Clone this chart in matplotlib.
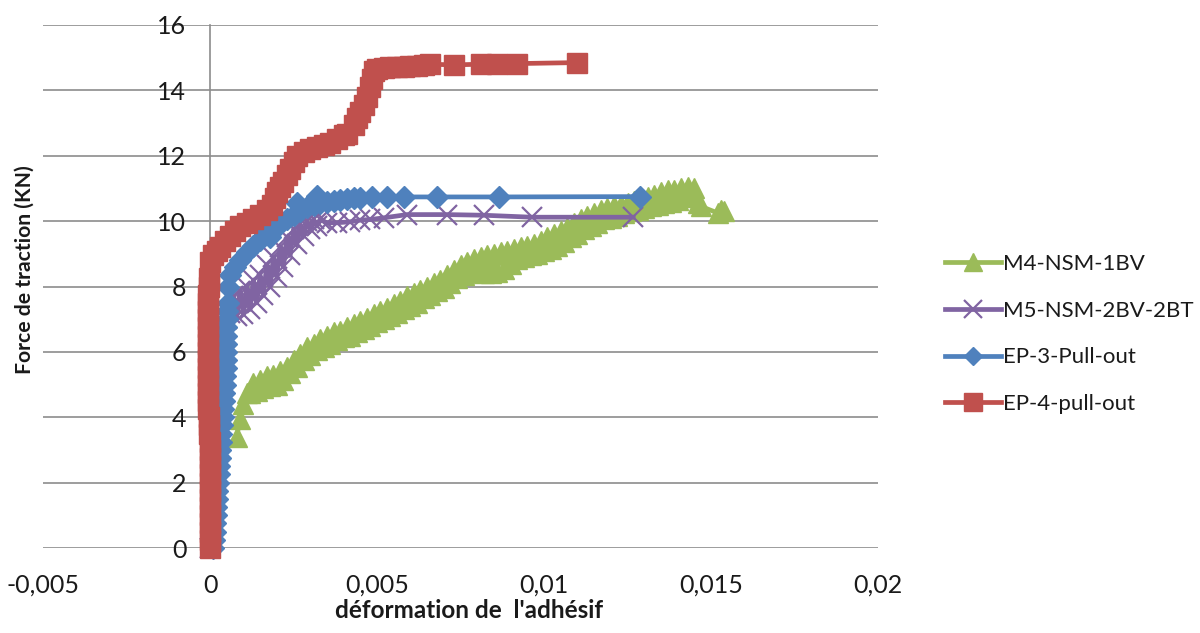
import matplotlib
matplotlib.use("Agg")
import matplotlib.pyplot as plt
from matplotlib.ticker import FixedLocator, FixedFormatter

plt.rcParams['font.family'] = ['Lato', 'DejaVu Sans']

# ---- data; strain in units of 1e-4 ----
m4_x = [8, 9, 10, 11, 12, 13, 14, 15, 16, 17, 18, 19, 20, 21, 22, 23, 24, 25, 26, 27,
        28, 29, 30, 31, 32, 33, 34, 35, 36, 37, 38, 39, 40, 41, 42, 43, 44, 45, 46, 47,
        48, 49, 50, 51, 52, 53, 54, 55, 56, 57, 58, 59, 60, 61, 62, 63, 64, 65, 66, 67,
        68, 69, 70, 71, 72, 73, 74, 75, 76, 77, 78, 79, 80, 81, 82, 83, 84, 85, 86, 87,
        88, 89, 90, 91, 92, 93, 94, 95, 96, 97, 98, 99, 100, 101, 102, 103, 104, 105, 106, 107,
        108, 109, 110, 111, 112, 113, 114, 115, 116, 117, 118, 119, 120, 121, 122, 123, 124, 125, 126, 127,
        128, 129, 130, 131, 132, 133, 134, 135, 136, 137, 138, 139, 140, 141, 142, 143, 144, 145, 146, 147,
        152, 153, 154]
m4_y = [3.40, 3.95, 4.40, 4.75, 4.75, 5.05, 4.80, 5.15, 4.90, 5.25, 4.95, 5.30, 5.00, 5.40, 5.15, 5.55, 5.35, 5.75, 5.55, 5.95,
        5.75, 6.15, 5.90, 6.25, 6.05, 6.40, 6.15, 6.50, 6.25, 6.60, 6.35, 6.65, 6.45, 6.75, 6.50, 6.85, 6.60, 6.95, 6.70, 7.05,
        6.80, 7.15, 6.90, 7.25, 7.00, 7.35, 7.10, 7.45, 7.20, 7.55, 7.30, 7.70, 7.40, 7.80, 7.50, 7.90, 7.65, 8.00, 7.75, 8.10,
        7.85, 8.20, 7.95, 8.35, 8.10, 8.50, 8.25, 8.65, 8.35, 8.75, 8.45, 8.85, 8.50, 8.90, 8.40, 8.95, 8.40, 9.00, 8.45, 9.05,
        8.55, 9.10, 8.70, 9.15, 8.85, 9.20, 8.90, 9.25, 8.95, 9.30, 9.00, 9.40, 9.10, 9.50, 9.15, 9.60, 9.25, 9.70, 9.35, 9.80,
        9.50, 9.95, 9.60, 10.05, 9.75, 10.15, 9.85, 10.25, 9.95, 10.35, 10.05, 10.40, 10.10, 10.45, 10.15, 10.50, 10.25, 10.55, 10.30, 10.62,
        10.35, 10.70, 10.40, 10.75, 10.45, 10.80, 10.50, 10.88, 10.55, 10.95, 10.60, 10.95, 10.65, 11.00, 10.75, 11.05, 10.85, 11.00, 10.55, 10.45,
        10.25, 10.35, 10.30]

m5_x = [0.0, 0.5, 1.0, 1.5, 2.0, 2.5, 3.0, 3.5, 4.0, 4.5, 5.0, 6, 7, 8, 9, 10, 11, 12, 13, 14,
        15, 16, 17, 18, 19, 20, 21, 22, 23, 24, 25, 26, 27, 28, 29, 30, 31, 32, 33, 35,
        38, 42, 45, 48, 52, 59, 71, 82, 96.3, 126.7]
m5_y = [0.0, 0.8, 1.6, 2.4, 3.2, 4.0, 4.8, 5.6, 6.2, 6.7, 7.0, 7.2, 7.7, 7.1, 7.85, 7.15, 8.0, 7.3, 8.2, 7.5,
        8.35, 7.75, 8.65, 8.0, 8.9, 8.3, 9.2, 8.6, 9.5, 8.95, 9.75, 9.3, 9.9, 9.55, 10.0, 9.75, 10.05, 9.85, 10.05, 9.95,
        9.95, 9.98, 10.03, 10.05, 10.1, 10.2, 10.2, 10.18, 10.12, 10.12]

ep3_x = [1.0, 1.2, 1.4, 1.5, 1.7, 1.9, 2.0, 2.2, 2.4, 2.6,
         2.8, 2.9, 3.1, 3.3, 3.4, 3.6, 3.8, 4.0, 4.1, 4.3,
         4.5, 4.6, 4.7, 4.8, 4.8, 4.8, 4.8, 4.9, 5.0, 5.1,
         5.3, 5.5, 6.0, 7.5, 9.0, 11.0, 13.0, 15.0, 16.5, 18.0,
         19.5, 21.0, 23.0, 25.0, 26.0, 27.0, 29.0, 31.0, 32.0, 33.0,
         35.0, 37.0, 39.0, 41.0, 43.0, 45.0, 48.5, 53.0, 58.0, 68.0,
         86.5, 128.7]
ep3_y = [0.0, 0.25, 0.5, 0.75, 1.0, 1.25, 1.5, 1.75, 2.0, 2.25,
         2.5, 2.75, 3.0, 3.25, 3.5, 3.75, 4.0, 4.25, 4.5, 4.75,
         5.0, 5.25, 5.5, 5.75, 6.0, 6.25, 6.5, 6.75, 7.0, 7.25,
         7.5, 8.0, 8.35, 8.6, 8.8, 9.05, 9.25, 9.42, 9.6, 9.5,
         9.8, 9.92, 10.05, 10.2, 10.55, 10.32, 10.42, 10.5, 10.78, 10.55,
         10.6, 10.63, 10.65, 10.67, 10.7, 10.72, 10.74, 10.74, 10.74, 10.74,
         10.74, 10.75]

ep4_x = [0.0, 0.0, 0.0, 0.0, 0.0, 0.0, 0.0, 0.0, 0.0, 0.0,
         0.0, 0.0, 0.0, -0.1, -0.2, -0.3, -0.4, -0.5, -0.6, -0.7,
         -0.7, -0.7, -0.7, -0.7, -0.7, -0.7, -0.7, -0.7, -0.7, -0.7,
         -0.6, -0.5, -0.4, -0.2, 0.0, 1.0, 2.0, 3.0, 4.5, 6.0,
         7.5, 9.0, 11.0, 13.0, 15.0, 17.0, 18.5, 19.5, 20.0, 21.0,
         22.0, 23.0, 24.0, 25.0, 26.0, 28.0, 30.0, 32.0, 34.0, 36.0,
         38.0, 40.0, 41.0, 43.0, 44.0, 45.0, 46.0, 47.0, 48.0, 48.5,
         49.0, 50.0, 52.0, 54.0, 56.0, 58.0, 60.0, 62.0, 64.0, 66.0,
         73.0, 81.0, 86.0, 92.0, 110.0]
ep4_y = [0.0, 0.25, 0.5, 0.75, 1.0, 1.25, 1.5, 1.75, 2.0, 2.25,
         2.5, 2.75, 3.0, 3.25, 3.5, 3.75, 4.0, 4.25, 4.5, 4.75,
         5.0, 5.25, 5.5, 5.75, 6.0, 6.25, 6.5, 6.75, 7.0, 7.25,
         7.5, 7.75, 8.0, 8.25, 8.75, 8.95, 9.1, 9.2, 9.4, 9.55,
         9.7, 9.85, 9.95, 10.08, 10.2, 10.35, 10.5, 10.7, 10.9, 11.05,
         11.2, 11.4, 11.6, 11.8, 12.0, 12.1, 12.2, 12.28, 12.32, 12.4,
         12.5, 12.62, 12.68, 12.95, 13.15, 13.35, 13.55, 13.8, 14.1, 14.35,
         14.6, 14.65, 14.68, 14.7, 14.72, 14.73, 14.75, 14.76, 14.78, 14.8,
         14.78, 14.8, 14.82, 14.82, 14.85]

series_names = ['M4-NSM-1BV', 'M5-NSM-2BV-2BT', 'EP-3-Pull-out', 'EP-4-pull-out']

x_ticks = [-0.005, 0.0, 0.005, 0.01, 0.015, 0.02]
x_tick_labels = ['-0,005', '0', '0,005', '0,01', '0,015', '0,02']
y_ticks = [0, 2, 4, 6, 8, 10, 12, 14, 16]
y_tick_labels = ['0', '2', '4', '6', '8', '10', '12', '14', '16']

x_label = "déformation de  l'adhésif"
y_label = "Force de traction (KN)"

# ---- figure ----
fig = plt.figure(figsize=(12, 6.33), dpi=100)
ax = fig.add_axes([43/1200, 1 - 548/633, (878 - 43)/1200, (548 - 25)/633])

grid_col = '#8c8c8c'
green = '#9BBB59'
purple = '#8064A2'
blue = '#4F81BD'
red = '#C0504D'

def sx(v):
    return [a * 1e-4 for a in v]

lw = 3.4
ax.plot(sx(m4_x), m4_y, color=green, lw=lw, marker='^', ms=15, mec=green, mfc=green,
        label=series_names[0], clip_on=False, zorder=3)
ax.plot(sx(m5_x), m5_y, color=purple, lw=lw, marker='x', ms=14.5, mec=purple, mew=1.6,
        label=series_names[1], clip_on=False, zorder=4)
ax.plot(sx(ep3_x), ep3_y, color=blue, lw=lw, marker='D', ms=10.8, mec=blue, mfc=blue,
        label=series_names[2], clip_on=False, zorder=5)
ax.plot(sx(ep4_x), ep4_y, color=red, lw=lw, marker='s', ms=15, mec=red, mfc=red,
        label=series_names[3], clip_on=False, zorder=6)

ax.set_xlim(-0.005, 0.02)
ax.set_ylim(0, 16)

for s in ['top', 'right', 'bottom']:
    ax.spines[s].set_visible(False)
ax.spines['left'].set_position(('data', 0))
ax.spines['left'].set_color(grid_col)
ax.spines['left'].set_linewidth(1.2)
ax.spines['left'].set_zorder(1)

ax.xaxis.set_major_locator(FixedLocator(x_ticks))
ax.xaxis.set_major_formatter(FixedFormatter(x_tick_labels))
ax.yaxis.set_major_locator(FixedLocator(y_ticks))
ax.yaxis.set_major_formatter(FixedFormatter(y_tick_labels))
ax.tick_params(axis='both', length=0, labelsize=18, colors='#1a1a1a')
ax.tick_params(axis='x', pad=18.5)
ax.tick_params(axis='y', pad=17)

ax.yaxis.grid(True, color=grid_col, lw=1.2)
ax.set_axisbelow(True)

fig.text(469/1200, 1 - 611/633, x_label, ha='center', va='center',
         fontsize=17.5, fontweight='bold', color='#1a1a1a')
fig.text(25/1200, 1 - 270/633, y_label, ha='center', va='center', rotation=90,
         fontsize=15.2, fontweight='bold', color='#1a1a1a')

leg = ax.legend(loc='center left', bbox_to_anchor=(925/1200, 1 - 334/633),
                bbox_transform=fig.transFigure, frameon=False, fontsize=16,
                handlelength=2.5, handletextpad=0.1, labelspacing=1.2,
                markerscale=0.85)
for t in leg.get_texts():
    t.set_color('#1a1a1a')

fig.savefig('out.png', dpi=100)
